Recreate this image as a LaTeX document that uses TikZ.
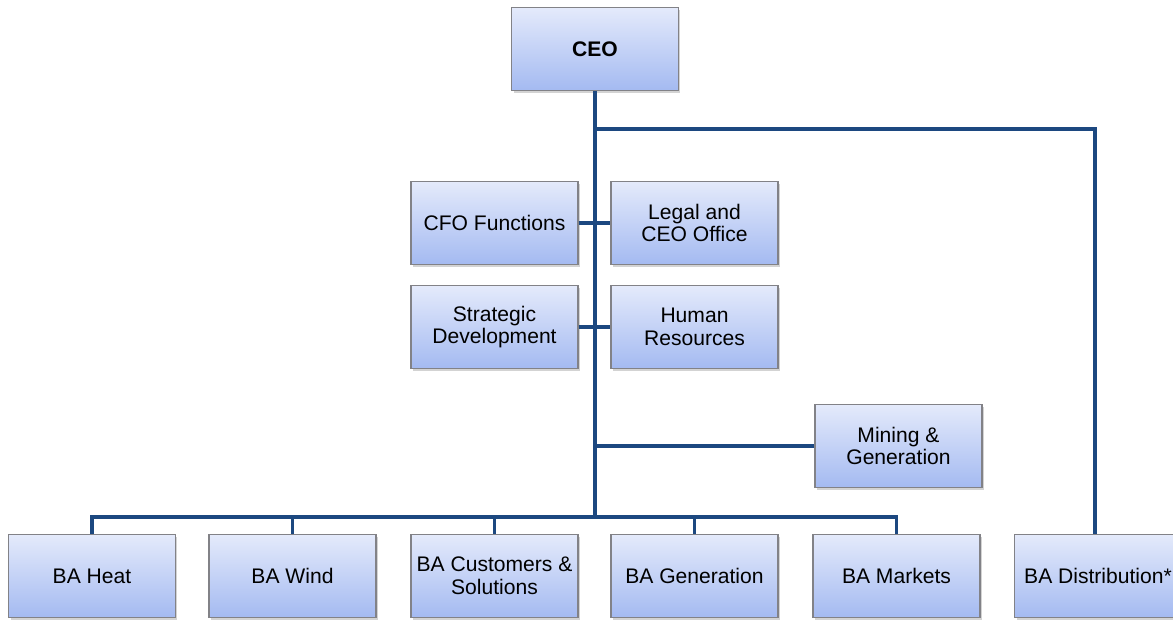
\documentclass[tikz,border=0pt]{standalone}
\usepackage{fontspec}
\setmainfont{Liberation Sans}
\usetikzlibrary{shadows}
\definecolor{boxtop}{RGB}{228,234,251}
\definecolor{boxbot}{RGB}{164,186,241}
\definecolor{boxedge}{RGB}{130,130,135}
\definecolor{orgblue}{RGB}{28,72,128}
\tikzset{
  unit/.style={draw=boxedge,line width=0.6pt,top color=boxtop,bottom color=boxbot,
    minimum width=3.34cm,minimum height=1.66cm,align=center,inner sep=1pt,
    font=\fontsize{12}{13}\selectfont,
    drop shadow={shadow xshift=0.04cm,shadow yshift=-0.05cm,opacity=0.35}},
  orgline/.style={draw=orgblue,line width=2.2pt}
}
\begin{document}
\begin{tikzpicture}[x=0.02cm,y=-0.02cm]
 \useasboundingbox (0,0) rectangle (1173,619);
 \clip (0,0) rectangle (1173,619);
 % junctions on the trunk
 \coordinate (top) at (595,129);
 \coordinate (bus) at (595,517);
 % boxes
 \node[unit,font=\fontsize{12}{13}\selectfont\bfseries] (ceo) at (595,49) {CEO};
 \node[unit] (cfo) at (494.5,223) {CFO Functions};
 \node[unit] (legal) at (694.5,223) {Legal and\\CEO Office};
 \node[unit] (strat) at (494.5,327) {Strategic\\Development};
 \node[unit] (hr) at (694.5,327) {Human\\Resources};
 \node[unit] (mining) at (898.5,446) {Mining \&\\Generation};
 \node[unit] (heat) at (92,576) {BA Heat};
 \node[unit] (wind) at (292.5,576) {BA Wind};
 \node[unit] (cust) at (494.5,576) {BA Customers \&\\Solutions};
 \node[unit] (gen) at (694.5,576) {BA Generation};
 \node[unit] (markets) at (896.5,576) {BA Markets};
 \node[unit] (dist) at (1098,576) {BA Distribution*};
 % lines
 \draw[orgline] (ceo.south) -- (bus);
 \draw[orgline] (top) -| ([xshift=-0.06cm]dist.north);
 \draw[orgline] (cfo) -- (legal);
 \draw[orgline] (strat) -- (hr);
 \draw[orgline] (mining.west) -- (mining.west -| bus);
 \draw[orgline] (heat.north) |- (bus) -| (markets.north);
 \foreach \n in {wind,cust,gen}
  \draw[orgline] (\n.north) -- (\n.north |- bus);
\end{tikzpicture}
\end{document}
